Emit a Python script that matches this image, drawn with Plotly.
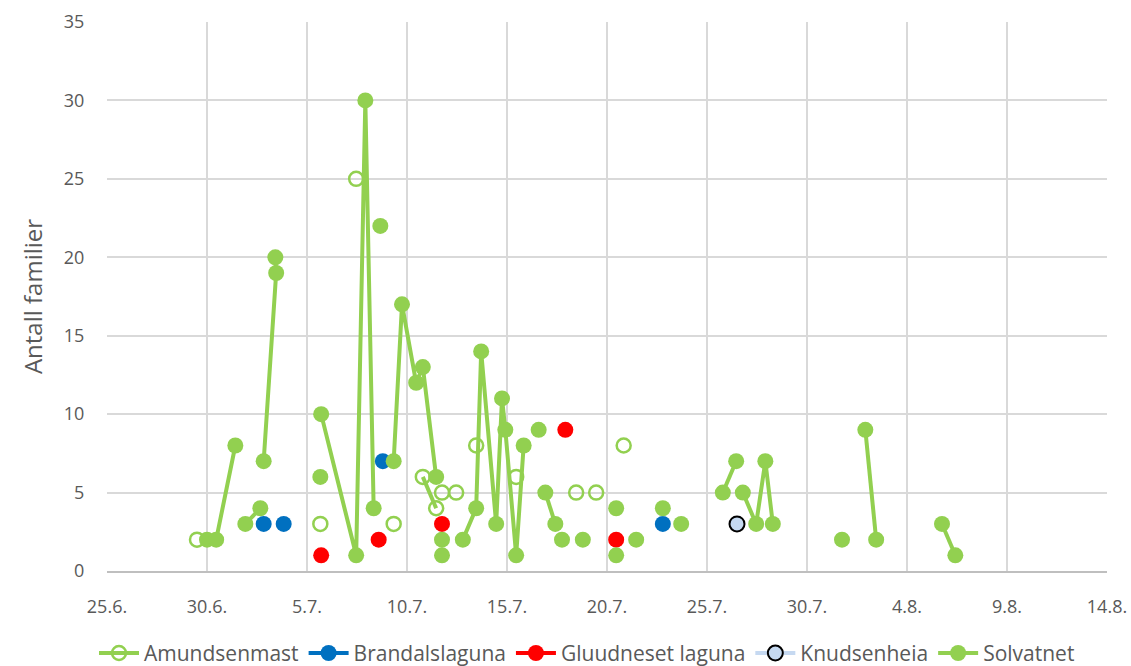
import plotly.graph_objects as go

# ------------------------------------------------------------
# Data: antall familier per lokalitet (None = brudd i linjen)
# ------------------------------------------------------------
amundsen_x = ["2016-06-29 12:00", None, "2016-07-05 16:00", None, "2016-07-07 11:00", None,
              "2016-07-09 08:00", None, "2016-07-10 19:00", "2016-07-11 11:00", None,
              "2016-07-11 18:00", None, "2016-07-12 11:00", None, "2016-07-13 11:00", None,
              "2016-07-15 11:00", None, "2016-07-18 11:00", None, "2016-07-19 11:00", None,
              "2016-07-20 20:00"]
amundsen_y = [2, None, 3, None, 25, None, 3, None, 6, 4, None, 5, None, 5, None, 8, None,
              6, None, 5, None, 5, None, 8]

brandal_x = ["2016-07-02 20:00", None, "2016-07-03 20:00", None, "2016-07-08 19:00", None,
             "2016-07-22 19:00"]
brandal_y = [3, None, 3, None, 7, None, 3]

gluud_x = ["2016-07-05 17:00", None, "2016-07-08 14:00", None, "2016-07-11 18:00", None,
           "2016-07-17 22:00", None, "2016-07-20 11:00"]
gluud_y = [1, None, 2, None, 3, None, 9, None, 2]

knudsen_x = ["2016-07-26 12:00"]
knudsen_y = [3]

solvatnet_x = ["2016-06-30 00:00", "2016-06-30 11:00", "2016-07-01 10:00", None,
               "2016-07-01 22:00", "2016-07-02 16:00", None,
               "2016-07-02 20:00", "2016-07-03 11:00", "2016-07-03 10:00", None,
               "2016-07-05 16:00", None,
               "2016-07-05 17:00", "2016-07-07 11:00", "2016-07-07 22:00", "2016-07-08 08:00", None,
               "2016-07-08 16:00", None,
               "2016-07-09 08:00", "2016-07-09 18:00", "2016-07-10 11:00", "2016-07-10 19:00",
               "2016-07-11 11:00", None,
               "2016-07-11 18:00", None, "2016-07-11 18:00", None,
               "2016-07-12 19:00", "2016-07-13 11:00", "2016-07-13 17:00", "2016-07-14 11:00",
               "2016-07-14 18:00", "2016-07-14 22:00", "2016-07-15 11:00", "2016-07-15 20:00", None,
               "2016-07-16 14:00", None,
               "2016-07-16 22:00", "2016-07-17 10:00", None,
               "2016-07-17 18:00", None, "2016-07-18 19:00", None,
               "2016-07-20 11:00", None, "2016-07-20 11:00", None,
               "2016-07-21 11:00", None, "2016-07-22 19:00", None, "2016-07-23 17:00", None,
               "2016-07-25 19:00", "2016-07-26 11:00", None,
               "2016-07-26 19:00", "2016-07-27 11:00", "2016-07-27 22:00", "2016-07-28 07:00", None,
               "2016-07-31 18:00", None,
               "2016-08-01 22:00", "2016-08-02 11:00", None,
               "2016-08-05 18:00", "2016-08-06 10:00"]
solvatnet_y = [2, 2, 8, None,
               3, 4, None,
               7, 19, 20, None,
               6, None,
               10, 1, 30, 4, None,
               22, None,
               7, 17, 12, 13, 6, None,
               2, None, 1, None,
               2, 4, 14, 3, 11, 9, 1, 8, None,
               9, None,
               5, 3, None,
               2, None, 2, None,
               4, None, 1, None,
               2, None, 4, None, 3, None,
               5, 7, None,
               5, 3, 7, 3, None,
               2, None,
               9, 2, None,
               3, 1]

tick_vals = ["2016-06-25", "2016-06-30", "2016-07-05", "2016-07-10", "2016-07-15", "2016-07-20",
             "2016-07-25", "2016-07-30", "2016-08-04", "2016-08-09", "2016-08-14"]
tick_text = ["25.6.", "30.6.", "5.7.", "10.7.", "15.7.", "20.7.", "25.7.", "30.7.", "4.8.",
             "9.8.", "14.8."]

GREEN = "#92D050"
FONT = "Open Sans"

fig = go.Figure()

# Amundsenmast — åpne sirkler
fig.add_trace(go.Scatter(
    x=amundsen_x, y=amundsen_y, name="Amundsenmast", mode="lines+markers",
    line=dict(color=GREEN, width=4),
    marker=dict(symbol="circle-open", size=14, color=GREEN, line=dict(width=2.5)),
))

fig.add_trace(go.Scatter(
    x=brandal_x, y=brandal_y, name="Brandalslaguna", mode="lines+markers",
    line=dict(color="#0070C0", width=4),
    marker=dict(size=16, color="#0070C0"),
))

fig.add_trace(go.Scatter(
    x=gluud_x, y=gluud_y, name="Gluudneset laguna", mode="lines+markers",
    line=dict(color="#FF0000", width=4),
    marker=dict(size=16, color="#FF0000"),
))

fig.add_trace(go.Scatter(
    x=knudsen_x, y=knudsen_y, name="Knudsenheia", mode="lines+markers",
    line=dict(color="#C6D9F1", width=4),
    marker=dict(size=15, color="#C5D9F1", line=dict(color="black", width=2)),
))

fig.add_trace(go.Scatter(
    x=solvatnet_x, y=solvatnet_y, name="Solvatnet", mode="lines+markers",
    line=dict(color=GREEN, width=4),
    marker=dict(size=16, color=GREEN),
))

fig.update_layout(
    width=1131, height=666,
    paper_bgcolor="white", plot_bgcolor="white",
    margin=dict(l=107, r=24, t=22, b=95, autoexpand=False),
    font=dict(family=FONT, size=18, color="#595959"),
    showlegend=True,
    legend=dict(orientation="h", x=0.48, xanchor="center", y=-0.15, yanchor="middle",
                font=dict(size=21, color="#595959"), itemwidth=40, tracegroupgap=0),
)

fig.update_xaxes(
    type="date", range=["2016-06-25", "2016-08-14"],
    tickvals=tick_vals, ticktext=tick_text, automargin=False,
    showgrid=True, gridcolor="#D9D9D9", gridwidth=2,
    showline=True, linecolor="#BFBFBF", linewidth=2,
    ticks="outside", ticklen=18, tickcolor="rgba(0,0,0,0)",
    zeroline=False,
)
fig.update_yaxes(
    range=[0, 35], dtick=5, tick0=0, automargin=False,
    showgrid=True, gridcolor="#D9D9D9", gridwidth=2,
    showline=False, zeroline=False,
    ticks="outside", ticklen=18, tickcolor="rgba(0,0,0,0)",
    title=dict(text="Antall familier", font=dict(size=24, color="#595959"), standoff=14),
)

# fjern standardmarg rundt body slik at figuren fyller vinduet
fig.write_html("out.html", config={"displayModeBar": False},
               post_script="document.body.style.margin='0';document.body.style.overflow='hidden';")
